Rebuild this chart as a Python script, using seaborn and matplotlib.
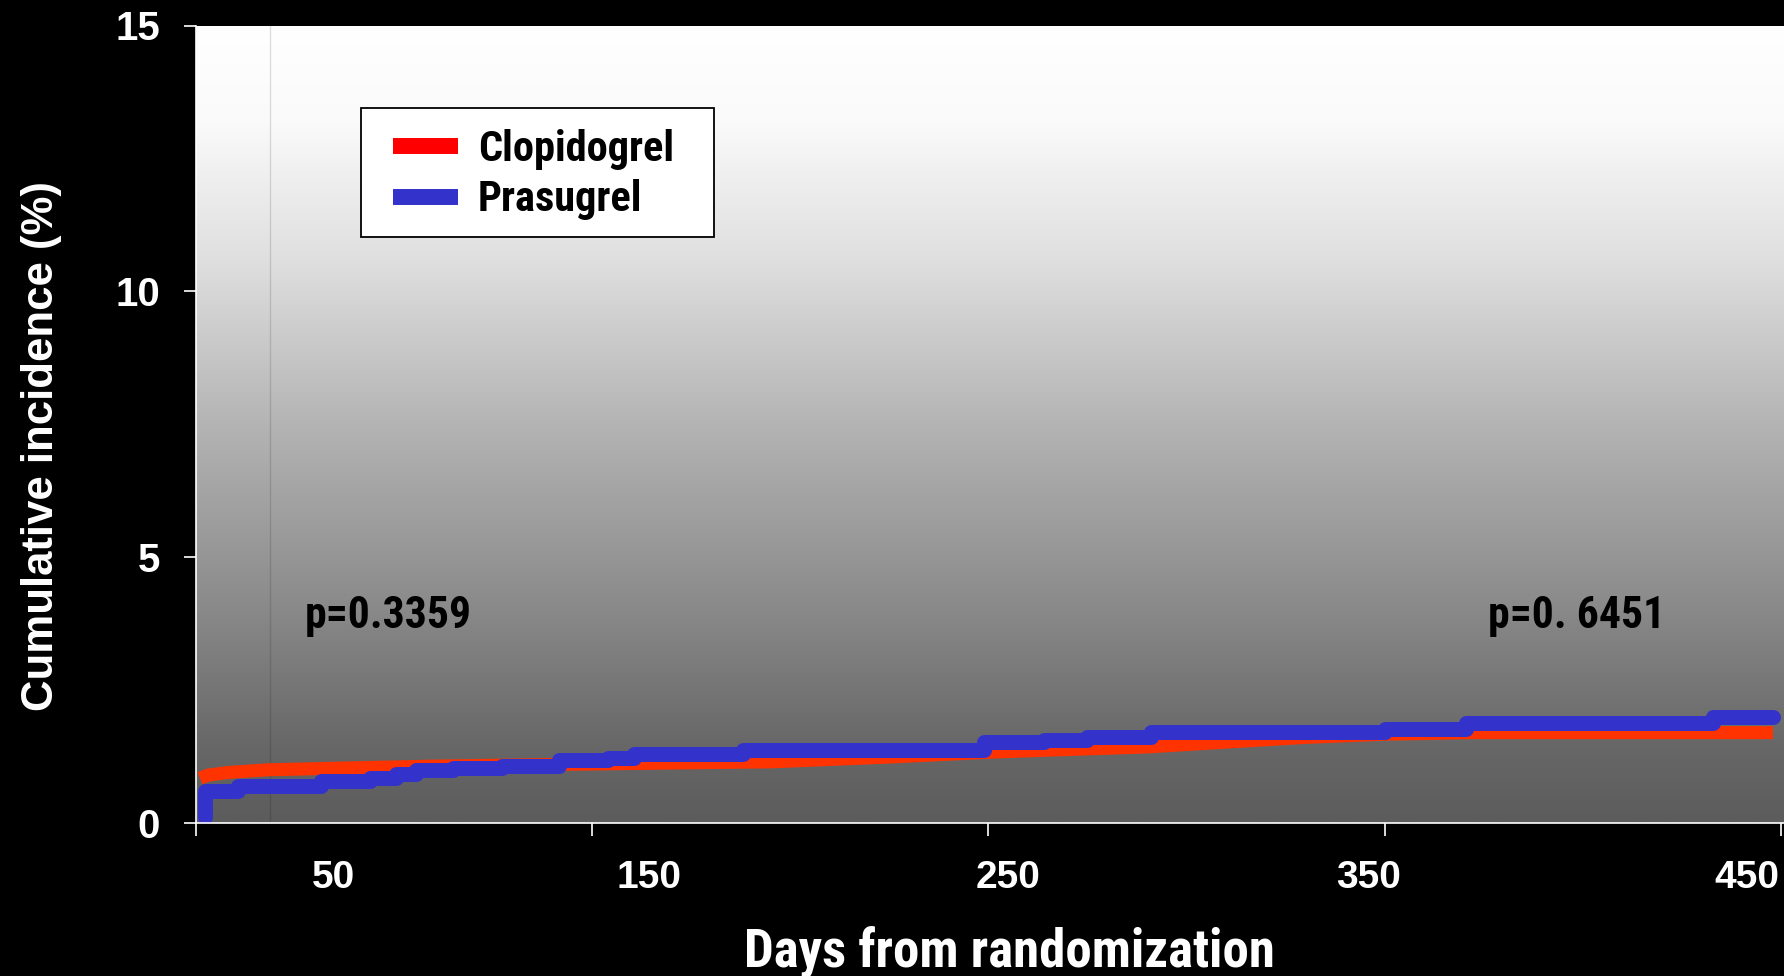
import numpy as np
import pandas as pd
import matplotlib
matplotlib.use("Agg")
import matplotlib.pyplot as plt
import seaborn as sns
from matplotlib import font_manager as fm
from matplotlib.colors import LinearSegmentedColormap
from matplotlib.lines import Line2D
from matplotlib.patches import Rectangle

# ---- data -------------------------------------------------------------
series_names = ["Clopidogrel", "Prasugrel"]

clopidogrel_days = [1, 3, 8, 18, 35, 60, 100, 145, 175, 200, 215, 240, 262, 280, 300, 322, 398]
clopidogrel_pct = [0.84, 0.90, 0.95, 1.00, 1.03, 1.07, 1.11, 1.15, 1.24, 1.33, 1.37, 1.43,
                   1.53, 1.61, 1.67, 1.70, 1.70]

prasugrel_days = [2.3, 2.3, 10.6, 31.6, 43.9, 50.4, 55.5, 64.9, 77.2, 91.7, 104.0, 110.6,
                  138.0, 199.0, 214.0, 225.0, 241.0, 300.0, 320.6, 383.0, 398.0]
prasugrel_pct = [0.12, 0.61, 0.70, 0.79, 0.85, 0.93, 1.00, 1.04, 1.08, 1.18, 1.23, 1.30,
                 1.38, 1.52, 1.57, 1.62, 1.71, 1.77, 1.88, 2.00, 2.00]

landmark_day = 18.7
p_values = ["p=0.3359", "p=0. 6451"]

y_ticks = [0, 5, 10, 15]
y_tick_labels = ["0", "5", "10", "15"]
x_ticks = [0, 100, 200, 300, 400]
x_tick_labels = ["50", "150", "250", "350", "450"]

# ---- style ------------------------------------------------------------
sns.set_theme(style="white")
_names = {f.name for f in fm.fontManager.ttflist}
WIDE = "Liberation Sans" if "Liberation Sans" in _names else "DejaVu Sans"
NARROW, NSCALE = WIDE, 0.86          # plain face, shrunk to approximate a narrow cut
for cand in ["Liberation Sans Narrow", "Arial Narrow", "Roboto Condensed",
             "Open Sans Condensed"]:
    if cand in _names:
        NARROW, NSCALE = cand, 1.0
        break
plt.rcParams["font.family"] = [WIDE, "DejaVu Sans"]

RED_LINE = "#ff3300"
RED_KEY = "#ff0000"
BLUE = "#3333cc"

fig = plt.figure(figsize=(17.84, 9.76), dpi=100, facecolor="black")
ax = fig.add_axes([196 / 1784, 1 - 823 / 976, 1 - 196 / 1784, (823 - 25.5) / 976])
ax.set_facecolor("white")

XMAX, YMAX = 400.8, 15

# vertical grey gradient behind the curves
stops = [(0.0, 255), (0.12, 250), (0.3, 222), (0.5, 180), (0.73, 138), (0.9, 104), (1.0, 92)]
cmap = LinearSegmentedColormap.from_list(
    "panel", [(t, (v / 255, v / 255, v / 255)) for t, v in stops])
grad = np.linspace(0, 1, 512).reshape(-1, 1)
ax.imshow(grad, extent=[0, XMAX, 0, YMAX], origin="upper", aspect="auto",
          cmap=cmap, vmin=0, vmax=1, interpolation="bilinear", zorder=0)

ax.axvline(landmark_day, color="black", alpha=0.13, lw=1.0, zorder=1)

clop = pd.DataFrame({"day": clopidogrel_days, "pct": clopidogrel_pct})
pras = pd.DataFrame({"day": prasugrel_days, "pct": prasugrel_pct})

sns.lineplot(data=clop, x="day", y="pct", ax=ax, color=RED_LINE, linewidth=9.4,
             estimator=None, sort=False, solid_capstyle="butt", zorder=3)
sns.lineplot(data=pras, x="day", y="pct", ax=ax, color=BLUE, linewidth=10.8,
             estimator=None, sort=False, drawstyle="steps-post",
             solid_capstyle="round", solid_joinstyle="round", zorder=4)

ax.set_xlim(0, XMAX)
ax.set_ylim(0, YMAX)

# axes, ticks, labels
for side in ["top", "right"]:
    ax.spines[side].set_visible(False)
for side in ["left", "bottom"]:
    ax.spines[side].set_color("white")
    ax.spines[side].set_linewidth(1.2)
    ax.spines[side].set_zorder(5)

ax.set_yticks(y_ticks)
ax.set_yticklabels(y_tick_labels, fontfamily=WIDE, fontweight="bold", fontsize=29, color="white")
ax.tick_params(axis="y", which="major", direction="out", length=9, width=1.2,
               color="white", pad=17, left=True)

ax.set_xticks(x_ticks)
ax.set_xticklabels([""] * len(x_ticks))
ax.tick_params(axis="x", which="major", direction="out", length=9, width=1.2,
               color="white", bottom=True)
label_days = [34.7, 114.3, 205.0, 296.0, 391.4]
ax.set_xticks(label_days, minor=True)
ax.set_xticklabels(x_tick_labels, minor=True, fontfamily=WIDE, fontweight="bold",
                   fontsize=28, color="white")
ax.tick_params(axis="x", which="minor", length=0, pad=27, bottom=True)

ax.set_xlabel("Days from randomization", fontfamily=NARROW, fontweight="bold",
              fontsize=38 * NSCALE, color="white", va="center")
ax.xaxis.set_label_coords(0.512, -0.161)
ax.set_ylabel("Cumulative incidence (%)", fontfamily=WIDE, fontweight="bold",
              fontsize=31.5, color="white", va="center")
ax.yaxis.set_label_coords(-0.097, 0.473)

# p-values for the two landmark periods
for day, txt in zip([27.5, 326.0], p_values):
    ax.text(day, 3.90, txt, fontfamily=NARROW, fontweight="bold",
            fontsize=31.5 * NSCALE, color="black", ha="left", va="center", zorder=6)

# legend with its own box
ax.add_patch(Rectangle((0.104, 0.7348), 0.222, 0.1618, transform=ax.transAxes,
                       facecolor="white", edgecolor="black", linewidth=1.3, zorder=7))
leg_size = 30.5 * NSCALE
leg_px = leg_size * 100 / 72
handles = [Line2D([], [], color=RED_KEY, lw=11.5, solid_capstyle="butt"),
           Line2D([], [], color=BLUE, lw=11.5, solid_capstyle="butt")]
leg = ax.legend(handles, series_names, loc="upper left", bbox_to_anchor=(0.1239, 0.870),
                frameon=False, borderpad=0, borderaxespad=0, handlelength=65 / leg_px,
                handletextpad=20 / leg_px, labelspacing=0.22,
                prop={"family": NARROW, "weight": "bold", "size": leg_size})
leg.set_zorder(8)
for t in leg.get_texts():
    t.set_color("black")

fig.savefig("out.png", dpi=100, facecolor="black")
